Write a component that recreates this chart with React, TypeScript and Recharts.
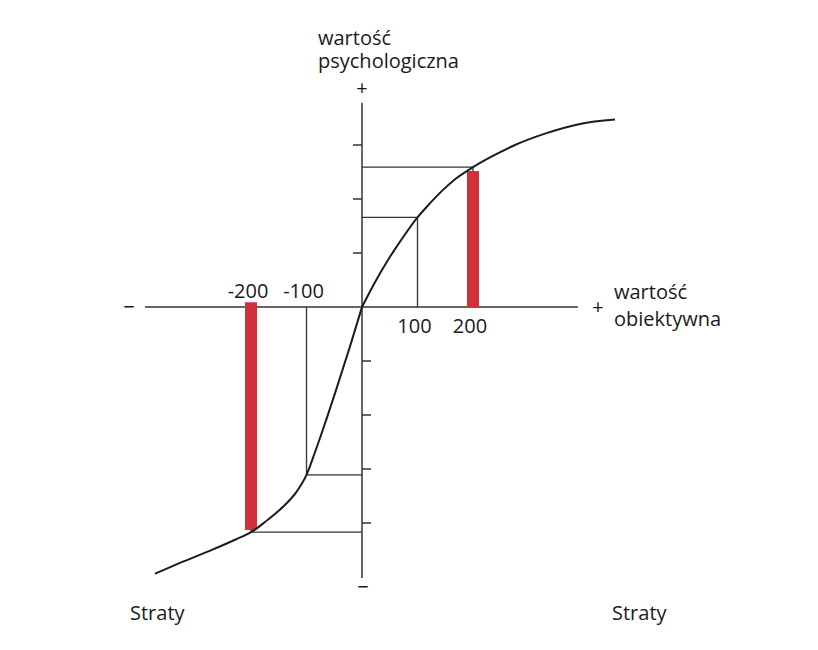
import React from 'react';
import { ComposedChart, Line, XAxis, YAxis, ReferenceLine, ReferenceDot } from 'recharts';

// value function, losses side (objective value -> psychological value, in tick units)
const lossX = [-373, -328, -268.5, -228.8, -200, -191, -174.8, -142.3, -117.1, -100, -84.7, -72.1, -46.8, -21.6, 0];
const lossY = [-4.94, -4.74, -4.49, -4.31, -4.17, -4.11, -3.98, -3.7, -3.41, -3.11, -2.69, -2.32, -1.54, -0.73, 0];

// value function, gains side
const gainX = [0, 23.4, 46.8, 68.5, 100, 118.9, 144.1, 169.4, 200, 230.6, 275.7, 329.7, 392.8, 455.9];
const gainY = [0, 0.46, 0.87, 1.21, 1.66, 1.88, 2.15, 2.38, 2.59, 2.77, 3.0, 3.21, 3.39, 3.47];

// guide lines (objective value and its psychological value)
const guideX = [100, 200, -100, -200];
const guideY = [1.66, 2.59, -3.11, -4.17];

// red bars
const barX = [200, -200];
const barFrom = [0, 0.09];
const barTo = [2.52, -4.13];

// axis ticks
const upperTicks = [1, 2, 3];
const lowerTicks = [-1, -2, -3, -4];

// tick labels
const labelsAbove = [-200, -100];
const labelsBelow = [100, 200];

// axis extents
const hAxis = [-391, 389];
const vAxis = [-5.02, 3.78];

const X_DOMAIN: [number, number] = [-652.25, 821.6];
const Y_DOMAIN: [number, number] = [-6.352, 5.685];

const lossCurve = lossX.map((x, i) => ({ x, y: lossY[i] }));
const gainCurve = gainX.map((x, i) => ({ x, y: gainY[i] }));

const FONT = '"Open Sans", sans-serif';
const TEXT_COLOR = '#1a1a1a';
const LINE = '#333333';
const CURVE = '#1c1c1c';
const RED = '#d0303b';

export default function App() {
  return (
    <div style={{ position: 'absolute', left: 0, top: 0, width: 818, height: 650, background: '#fff' }}>
      <ComposedChart width={818} height={650} margin={{ top: 0, right: 0, bottom: 0, left: 0 }}>
        <XAxis hide type="number" dataKey="x" domain={X_DOMAIN} allowDataOverflow />
        <YAxis hide type="number" dataKey="y" domain={Y_DOMAIN} allowDataOverflow />

        {/* axes */}
        <ReferenceLine segment={[{ x: hAxis[0], y: 0 }, { x: hAxis[1], y: 0 }]} stroke={LINE} strokeWidth={1.5} ifOverflow="visible" />
        <ReferenceLine segment={[{ x: 0, y: vAxis[0] }, { x: 0, y: vAxis[1] }]} stroke={LINE} strokeWidth={1.5} ifOverflow="visible" />

        {/* ticks */}
        {upperTicks.map((t) => (
          <ReferenceDot key={'u' + t} x={0} y={t} r={0} ifOverflow="visible"
            shape={(p: any) => <line x1={p.cx - 9} x2={p.cx} y1={p.cy} y2={p.cy} stroke={LINE} strokeWidth={1.5} />} />
        ))}
        {lowerTicks.map((t) => (
          <ReferenceDot key={'l' + t} x={0} y={t} r={0} ifOverflow="visible"
            shape={(p: any) => <line x1={p.cx} x2={p.cx + 9} y1={p.cy} y2={p.cy} stroke={LINE} strokeWidth={1.5} />} />
        ))}

        {/* guide lines */}
        {guideX.map((gx, i) => (
          <ReferenceLine key={'gh' + i} segment={[{ x: 0, y: guideY[i] }, { x: gx, y: guideY[i] }]} stroke={LINE} strokeWidth={1.3} ifOverflow="visible" />
        ))}
        {guideX.map((gx, i) => (
          <ReferenceLine key={'gv' + i} segment={[{ x: gx, y: 0 }, { x: gx, y: guideY[i] }]} stroke={LINE} strokeWidth={1.3} ifOverflow="visible" />
        ))}

        {/* red bars */}
        {barX.map((bx, i) => (
          <ReferenceLine key={'b' + i} segment={[{ x: bx, y: barFrom[i] }, { x: bx, y: barTo[i] }]} stroke={RED} strokeWidth={12} ifOverflow="visible" />
        ))}

        {/* tick labels */}
        {labelsAbove.map((v) => (
          <ReferenceDot key={'la' + v} x={v} y={0} r={0} ifOverflow="visible"
            shape={(p: any) => (
              <text x={p.cx - 3} y={p.cy - 9} textAnchor="middle" fontFamily={FONT} fontSize={20} fill={TEXT_COLOR}>{String(v)}</text>
            )} />
        ))}
        {labelsBelow.map((v) => (
          <ReferenceDot key={'lb' + v} x={v} y={0} r={0} ifOverflow="visible"
            shape={(p: any) => (
              <text x={p.cx - 3} y={p.cy + 26} textAnchor="middle" fontFamily={FONT} fontSize={20} fill={TEXT_COLOR}>{String(v)}</text>
            )} />
        ))}

        <Line data={lossCurve} dataKey="y" type="monotone" dot={false} activeDot={false} stroke={CURVE} strokeWidth={2} isAnimationActive={false} />
        <Line data={gainCurve} dataKey="y" type="monotone" dot={false} activeDot={false} stroke={CURVE} strokeWidth={2} isAnimationActive={false} />
      </ComposedChart>

      <svg width={818} height={650} style={{ position: 'absolute', left: 0, top: 0, pointerEvents: 'none' }}>
        <g fontFamily={FONT} fontSize={20} fill={TEXT_COLOR}>
          <text x={318} y={45}>
            <tspan x={318} dy={0}>wartość</tspan>
            <tspan x={318} dy={23}>psychologiczna</tspan>
          </text>
          <text x={614} y={299}>
            <tspan x={614} dy={0}>wartość</tspan>
            <tspan x={614} dy={27}>obiektywna</tspan>
          </text>
          <text x={130} y={620}>Straty</text>
          <text x={612} y={620}>Straty</text>
          <text x={362} y={95} textAnchor="middle">+</text>
          <text x={598} y={314} textAnchor="middle">+</text>
          <text x={129} y={314} textAnchor="middle">−</text>
          <text x={363} y={594} textAnchor="middle">−</text>
        </g>
      </svg>
    </div>
  );
}
